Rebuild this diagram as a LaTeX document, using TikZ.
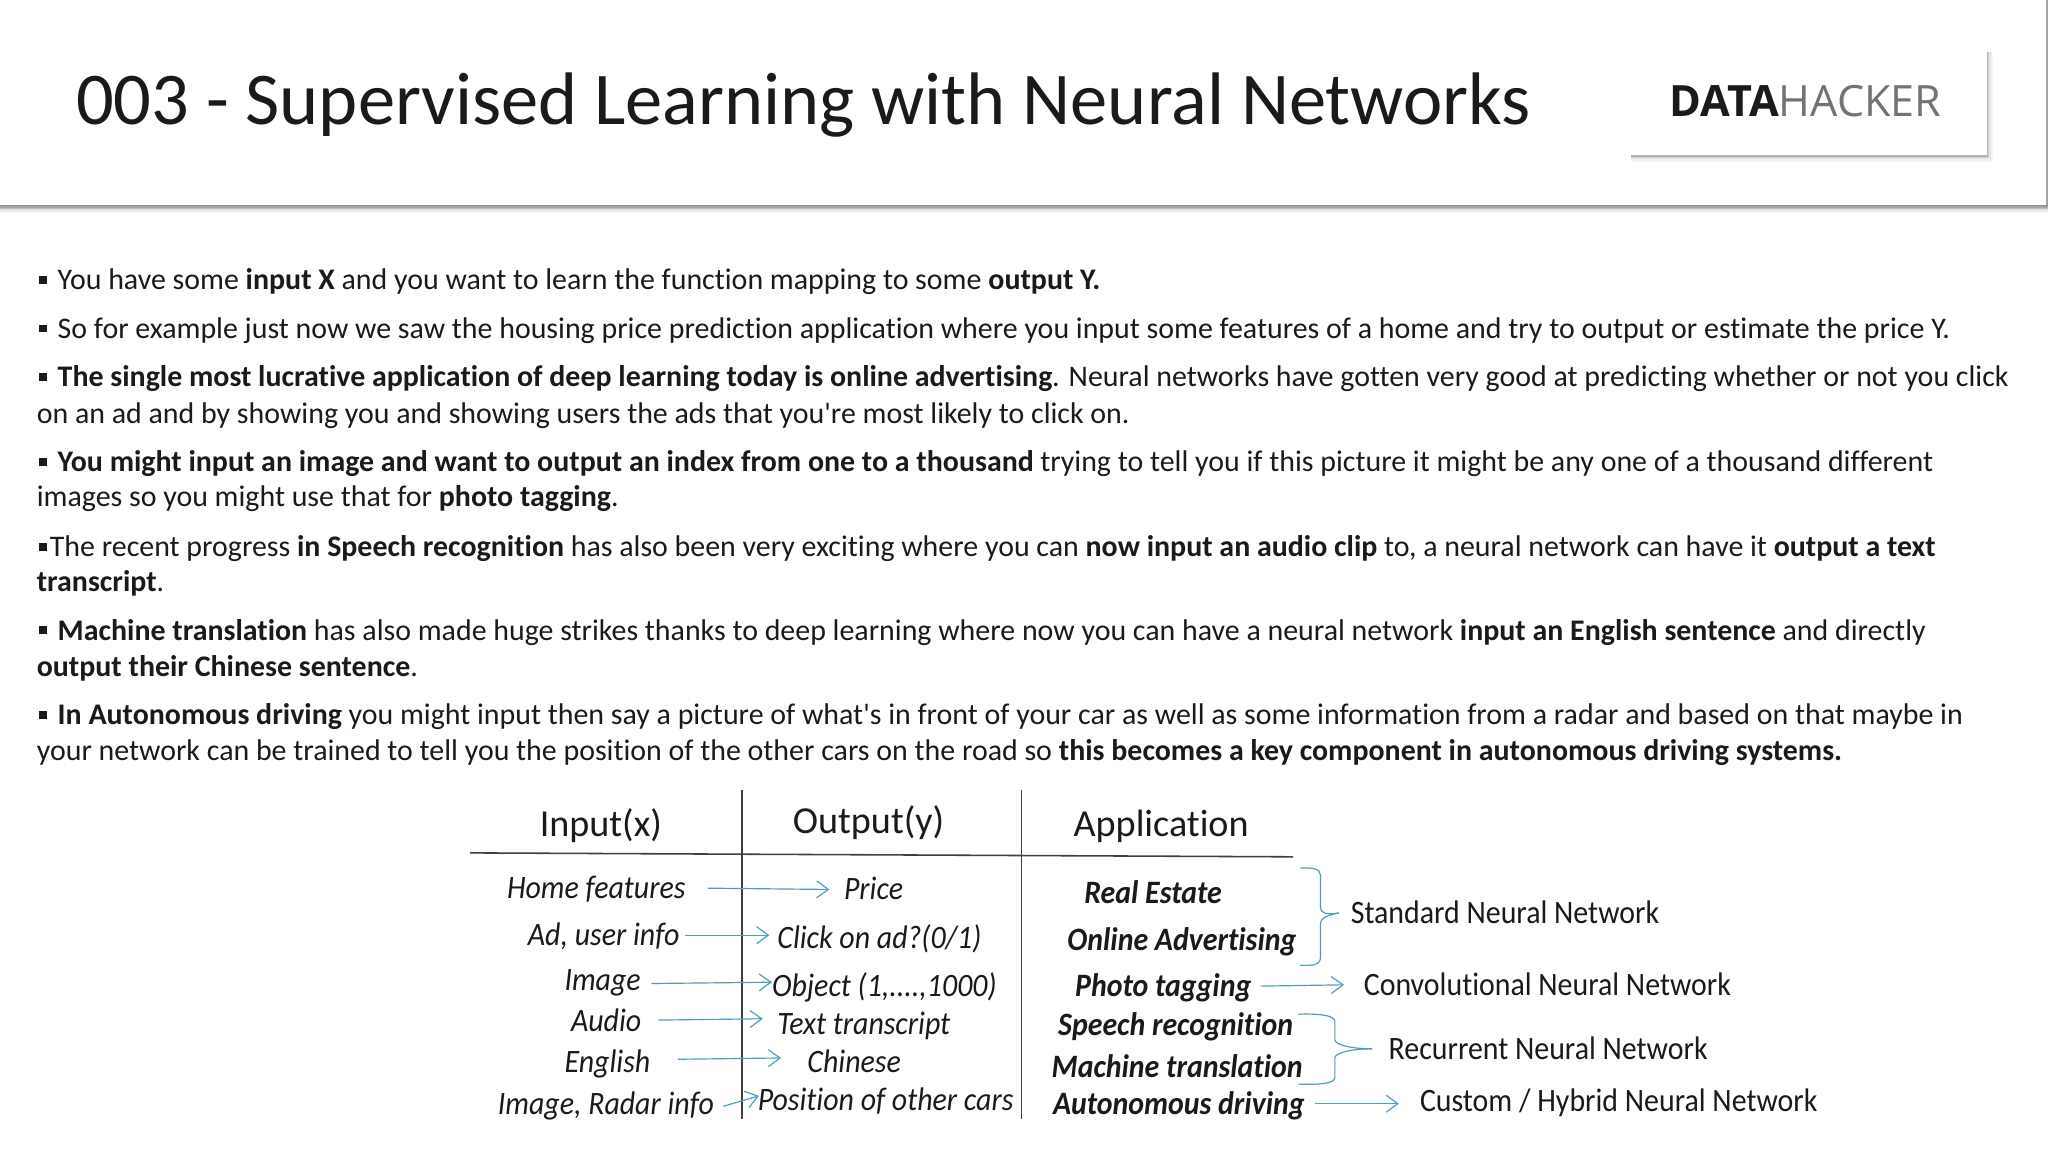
\documentclass[tikz,border=0pt]{standalone}
\usepackage{fontspec}
\newfontfamily\car{Carlito}[Ligatures=NoCommon]
\newfontfamily\tbl{Carlito}[Ligatures=NoCommon,FakeStretch=0.915]
\newfontfamily\logofont{Open Sans}
\usetikzlibrary{arrows.meta}
\definecolor{ink}{HTML}{1A1A1A}
\definecolor{teal}{HTML}{4F9DBE}
\newcommand\bul{\rule[4.5pt]{6pt}{6pt}\hspace{8pt}}
\tikzset{
  x=1pt,y=-1pt,
  body/.style={anchor=base west,inner sep=0pt,text=ink,font=\car\fontsize{22.9}{27}\selectfont},
  cell/.style={anchor=west,inner sep=0pt,text=ink,text height=18pt,text depth=2pt,font=\tbl\fontsize{25}{30}\selectfont\itshape},
  appcell/.style={cell,font=\tbl\fontsize{25}{30}\selectfont\bfseries\itshape},
  netcell/.style={cell,font=\tbl\fontsize{25}{30}\selectfont},
  head/.style={inner sep=0pt,text=ink,font=\car\fontsize{29.2}{34}\selectfont},
  arr/.style={draw=teal,line width=.9pt,-{Straight Barb[length=9pt,width=13pt,line width=.9pt]}},
  brace/.style={draw=teal,line width=.9pt,line join=round},
  rulel/.style={draw=black!75,line width=1.2pt},
}
\begin{document}
\begin{tikzpicture}
\useasboundingbox (0,0) rectangle (1568,882);
\fill[white] (0,0) rectangle (1568,882);
% header edge
\foreach \o/\s in {0/45,1/35,2/24,3/14,4/7,5/3}{
  \draw[black!\s,line width=1pt] (0,157.5+\o) -- (1568,157.5+\o);}
\draw[black!35,line width=1pt] (1567.3,0) -- (1567.3,157);
% logo card shadow
\foreach \o/\s in {5/3,4/6,3/10,2/18,1/30}{
  \fill[black!\s] (1249,40) rectangle (1521+\o,119+\o);}
\fill[white] (1247,38) rectangle (1521,119);
\node[anchor=base west,inner sep=0pt,font=\logofont\fontsize{33}{38}\selectfont] (logo) at (1278,89.5)
  {\textcolor{ink}{\bfseries DATA}\textcolor{black!55}{HACKER}};
\node[anchor=base west,inner sep=0pt,text=ink,font=\car\fontsize{57}{66}\selectfont] (title) at (58,95)
  {003 - Supervised Learning with Neural Networks};
% body
\node[body] (l1) at (30,222) {\bul You have some \textbf{input X} and you want to learn the function mapping to some \textbf{output Y.}};
\node[body] (l2) at (30,259) {\bul So for example just now we saw the housing price prediction application where you input some features of a home and try to output or estimate the price Y.};
\node[body] (l3) at (30,296) {\bul\textbf{The single most lucrative application of deep learning today is online advertising}. Neural networks have gotten very good at predicting whether or not you click};
\node[body] (l4) at (28,324) {on an ad and by showing you and showing users the ads that you're most likely to click on.};
\node[body] (l5) at (30,361) {\bul\textbf{You might input an image and want to output an index from one to a thousand} trying to tell you if this picture it might be any one of a thousand different};
\node[body] (l6) at (28,388) {images so you might use that for \textbf{photo tagging}.};
\node[body] (l7) at (30,426) {\rule[4.5pt]{6pt}{6pt}\hspace{2pt}The recent progress \textbf{in Speech recognition} has also been very exciting where you can \textbf{now input an audio clip} to, a neural network can have it \textbf{output a text}};
\node[body] (l8) at (28,453) {\textbf{transcript}.};
\node[body] (l9) at (30,490) {\bul\textbf{Machine translation} has also made huge strikes thanks to deep learning where now you can have a neural network \textbf{input an English sentence} and directly};
\node[body] (l10) at (28,518) {\textbf{output their Chinese sentence}.};
\node[body] (l11) at (30,555) {\bul\textbf{In Autonomous driving} you might input then say a picture of what's in front of your car as well as some information from a radar and based on that maybe in};
\node[body] (l12) at (28,582) {your network can be trained to tell you the position of the other cars on the road so \textbf{this becomes a key component in autonomous driving systems.}};
% table frame
\draw[rulel] (360,653) -- (990,656);
\draw[rulel] (568,605) -- (568,857);
\draw[rulel] (782,605) -- (782,857);
\node[head] (hin) at (460,632) {Input(x)};
\node[head] (hout) at (665,630) {Output(y)};
\node[head] (happ) at (889,633) {Application};
% inputs
\node[cell] (i1) at (388,680) {Home features};
\node[cell] (i2) at (404,716) {Ad, user info};
\node[cell] (i3) at (432,750) {Image};
\node[cell] (i4) at (437,782) {Audio};
\node[cell] (i5) at (432,813) {English};
\node[cell] (i6) at (381,845) {Image, Radar info};
% outputs
\node[cell] (o1) at (646,681) {Price};
\node[cell] (o2) at (595,718) {Click on ad?(0/1)};
\node[cell] (o3) at (591,755) {Object (1,....,1000)};
\node[cell] (o4) at (595,784) {Text transcript};
\node[cell] (o5) at (618,813) {Chinese};
\node[cell] (o6) at (580,842) {Position of other cars};
% applications
\node[appcell] (a1) at (830,684) {Real Estate};
\node[appcell] (a2) at (817,720) {Online Advertising};
\node[appcell] (a3) at (823,755) {Photo tagging};
\node[appcell] (a4) at (810,785) {Speech recognition};
\node[appcell] (a5) at (805,817) {Machine translation};
\node[appcell] (a6) at (806,845) {Autonomous driving};
% networks
\node[netcell] (n1) at (1034,699) {Standard Neural Network};
\node[netcell] (n2) at (1044,754) {Convolutional Neural Network};
\node[netcell] (n3) at (1063,803) {Recurrent Neural Network};
\node[netcell] (n4) at (1087,843) {Custom / Hybrid Neural Network};
% arrows
\draw[arr] ([xshift=17pt]i1.east) -- ([xshift=-11pt]o1.west);
\draw[arr] ([xshift=4pt]i2.east) -- ([xshift=-6pt,yshift=2pt]o2.west);
\draw[arr] ([xshift=8pt,yshift=-3pt]i3.east) -- ([yshift=3pt]o3.west);
\draw[arr] ([xshift=13pt,yshift=1pt]i4.east) -- ([xshift=-11pt,yshift=4pt]o4.west);
\draw[arr] ([xshift=21pt,yshift=2pt]i5.east) -- ([xshift=-20pt,yshift=3pt]o5.west);
\draw[arr] ([xshift=7pt,yshift=-2pt]i6.east) -- ([xshift=1pt,yshift=3pt]o6.west);
\draw[arr] ([xshift=7pt]a3.east) -- ([xshift=-15pt]n2.west);
\draw[arr] ([xshift=8pt]a6.east) -- ([xshift=-16pt,yshift=-2pt]n4.west);
% braces
\coordinate (b1t) at (995.5,664.7);
\coordinate (b1b) at (995.5,739);
\coordinate (b2t) at (994,776.5);
\coordinate (b2b) at (994,830);
\draw[brace] (b1t) .. controls (1004,664) and (1011,665) .. (1011,670) -- (1011,695)
  .. controls (1011,698) and (1014,701) .. ([xshift=-9pt]n1.west) ;
\draw[brace] (b1b) .. controls (1004,739.5) and (1011,739) .. (1011,733) -- (1011,707)
  .. controls (1011,704) and (1014,701) .. ([xshift=-9pt]n1.west);
\draw[brace] (b2t) .. controls (1008,776) and (1022,777) .. (1022,782) -- (1022,796)
  .. controls (1022,800) and (1035,803) .. ([xshift=-12.5pt]n3.west);
\draw[brace] (b2b) .. controls (1008,830.5) and (1022,830) .. (1022,825) -- (1022,810)
  .. controls (1022,806) and (1035,803) .. ([xshift=-12.5pt]n3.west);
\end{tikzpicture}
\end{document}
